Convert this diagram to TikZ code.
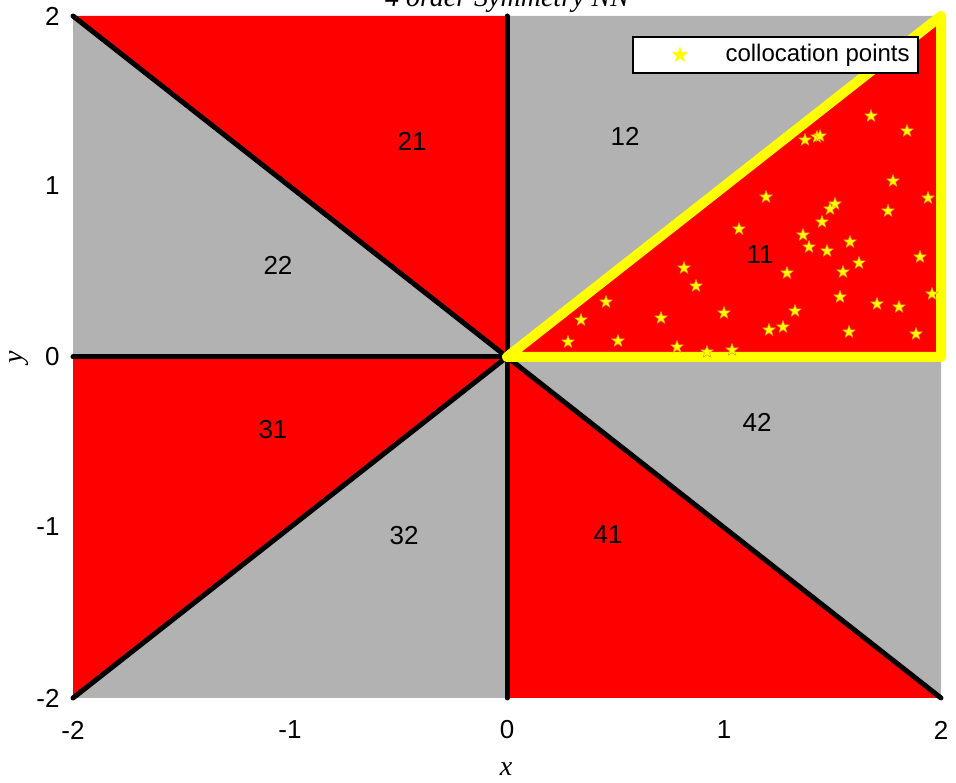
\documentclass[tikz,border=0pt]{standalone}
\usepackage{fontspec}
\setmainfont{Liberation Serif}
\setsansfont{Liberation Sans}
\usetikzlibrary{shapes.geometric}
\definecolor{sectorgray}{RGB}{178,178,178}
\definecolor{sectorred}{RGB}{255,0,0}
\definecolor{ptyellow}{RGB}{255,255,0}
\definecolor{ptedge}{RGB}{235,160,0}
\begin{document}
\begin{tikzpicture}[x=1pt,y=1pt,
  redsec/.style={fill=sectorred},
  graysec/.style={fill=sectorgray},
  sepline/.style={black,line width=5pt,line cap=round},
  bnd/.style={ptyellow,line width=10pt,line join=round},
  ptstar/.style={star,star points=5,star point ratio=2.4,inner sep=0pt,minimum size=13pt,fill=ptyellow,draw=ptedge,line width=0.5pt},
  legstar/.style={star,star points=5,star point ratio=2.4,inner sep=0pt,minimum size=17pt,fill=ptyellow,draw=none},
  reglab/.style={font=\sffamily\fontsize{26}{30}\selectfont},
  ticklab/.style={font=\sffamily\fontsize{26}{30}\selectfont},
  legfont/.style={font=\sffamily\fontsize{24}{28}\selectfont},
  axlab/.style={font=\itshape\fontsize{28}{32}\selectfont}
]
\useasboundingbox (0,0) rectangle (956,782);
\fill[white] (0,0) rectangle (956,782);
\begin{scope}[shift={(507pt,425pt)},x=217pt,y=170.5pt]
  \fill[redsec]  (0,0) -- (2,0) -- (2,2) -- cycle;
  \fill[graysec] (0,0) -- (2,2) -- (0,2) -- cycle;
  \fill[redsec]  (0,0) -- (0,2) -- (-2,2) -- cycle;
  \fill[graysec] (0,0) -- (-2,2) -- (-2,0) -- cycle;
  \fill[redsec]  (0,0) -- (-2,0) -- (-2,-2) -- cycle;
  \fill[graysec] (0,0) -- (-2,-2) -- (0,-2) -- cycle;
  \fill[redsec]  (0,0) -- (0,-2) -- (2,-2) -- cycle;
  \fill[graysec] (0,0) -- (2,-2) -- (2,0) -- cycle;
  \coordinate (O) at (0,0);
  \coordinate (NW) at (-2,2);
  \coordinate (W) at (-2,0);
  \coordinate (SW) at (-2,-2);
  \coordinate (S) at (0,-2);
  \coordinate (SE) at (2,-2);
  \coordinate (N) at (0,2);
  \coordinate (E) at (2,0);
  \coordinate (NE) at (2,2);
  \draw[sepline] (O) -- (NW);
  \draw[sepline] (O) -- (W);
  \draw[sepline] (O) -- (SW);
  \draw[sepline] (O) -- (S);
  \draw[sepline] (O) -- (SE);
  \draw[sepline] (O) -- (N);
  \draw[bnd] (O) -- (E) -- (NE) -- cycle;
\end{scope}
\foreach \px/\py [count=\i] in {871/116,907/131,805/140,817/137,820/136,893/181,766/197,928/198,835/204,830/209,888/211,822/222,739/229,803/235,850/242,809/247,827/251,920/257,859/263,684/268,787/273,843/272,696/286,932/294,840/297,606/302,877/304,899/307,795/311,724/313,581/320,661/318,769/330,783/327,849/332,916/334,568/342,618/341,677/347,707/352,732/350}
  \node[ptstar] (star\i) at (\px,{782-\py}) {};
% legend
\draw[black,line width=1.2pt,fill=white] (633,745) rectangle (918,709);
\node[legstar] (legstar) at (680,727) {};
\node[legfont,anchor=west] (legtext) at (722,727) {collocation points};
% region labels
\node[reglab] (r21) at (412,641) {21};
\node[reglab] (r12) at (625,646) {12};
\node[reglab] (r22) at (278,517) {22};
\node[reglab] (r11) at (760,527) {11};
\node[reglab] (r31) at (273,352) {31};
\node[reglab] (r42) at (757,360) {42};
\node[reglab] (r32) at (404,246) {32};
\node[reglab] (r41) at (608,247) {41};
% ticks
\node[ticklab] (xm2) at (73,52) {-2};
\node[ticklab] (xm1) at (290,52) {-1};
\node[ticklab] (x0) at (507,52) {0};
\node[ticklab] (x1) at (724,52) {1};
\node[ticklab] (x2) at (941,52) {2};
\node[ticklab,anchor=east] (y2) at (63,766) {2};
\node[ticklab,anchor=east] (y1) at (63,596) {1};
\node[ticklab,anchor=east] (y0) at (63,425) {0};
\node[ticklab,anchor=east] (ym1) at (63,255) {-1};
\node[ticklab,anchor=east] (ym2) at (63,84) {-2};
% axis labels and title
\node[axlab] (xlab) at (506,13) {x};
\node[axlab,rotate=90] (ylab) at (19,425) {y};
\node[axlab,anchor=base] (title) at (507,775) {4 order Symmetry NN};
\end{tikzpicture}
\end{document}
